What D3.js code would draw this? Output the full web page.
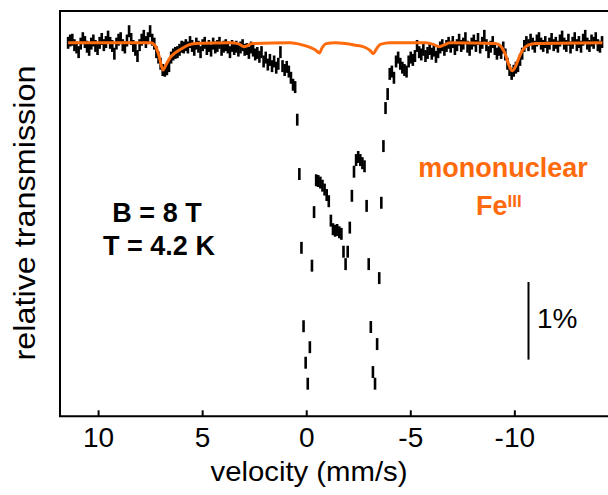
<!DOCTYPE html>
<html>
<head>
<meta charset="utf-8">
<script src="https://cdn.jsdelivr.net/npm/d3@7"></script>
<style>
  body { margin: 0; background: #fff; }
  text { font-family: 'Liberation Sans', Arial, Helvetica, sans-serif; }
</style>
</head>
<body>
<div id="chart"></div>
<script>
// channel calibration (mm/s)
const velStart = 11.44
const velStep = 0.101

// relative transmission (%) per channel
const transmission = [
  100.00, 100.03, 100.04, 99.97, 99.94, 99.88, 99.99, 100.06, 100.01, 99.95, 99.91, 99.99, 100.03, 99.96, 99.92,
  100.00, 100.05, 99.97, 100.01, 100.08, 100.00, 99.96, 99.86, 99.99, 100.04, 100.06, 99.97, 99.94, 100.03, 100.15,
  100.05, 99.96, 99.91, 99.83, 99.97, 100.04, 100.09, 100.01, 100.06, 100.15, 100.04, 99.99, 99.88, 99.81, 99.73,
  99.65, 99.64, 99.66, 99.70, 99.81, 99.85, 99.87, 99.88, 99.91, 99.95, 99.94, 99.97, 99.94, 100.01, 99.96,
  99.91, 99.99, 99.95, 99.88, 99.97, 100.00, 99.92, 99.96, 99.90, 99.99, 99.94, 99.96, 100.00, 99.91, 99.95,
  99.97, 99.94, 99.88, 99.96, 99.92, 99.95, 99.90, 99.94, 99.97, 99.91, 99.92, 99.87, 99.94, 99.90, 99.85,
  99.87, 99.82, 99.88, 99.76, 99.81, 99.72, 99.78, 99.70, 99.76, 99.68, 99.73, 99.88, 99.70, 99.65, 99.69,
  99.63, 99.55, 99.46, 99.43, 99.01, 98.31, 97.36, 96.35, 95.88, 95.61, 96.08, 97.13, 97.82, 98.23, 98.22,
  98.20, 98.16, 98.11, 98.04, 97.96, 97.71, 97.60, 97.58, 97.59, 97.56, 97.54, 97.31, 97.15, 97.31, 97.62,
  98.03, 98.34, 98.49, 98.53, 98.49, 98.45, 98.41, 97.90, 97.15, 96.34, 95.76, 95.61, 96.12, 96.97, 97.94,
  98.67, 99.16, 99.34, 99.60, 99.63, 99.55, 99.76, 99.81, 99.73, 99.68, 99.65, 99.63, 99.76, 99.81, 99.78,
  99.83, 99.96, 99.88, 99.85, 99.91, 99.83, 99.87, 99.92, 99.86, 99.90, 99.82, 99.88, 99.94, 99.97, 99.91,
  99.96, 100.00, 99.95, 100.01, 99.92, 99.97, 100.04, 99.96, 99.99, 100.06, 99.95, 99.91, 99.99, 100.03, 99.96,
  100.05, 99.94, 100.00, 100.09, 99.97, 99.88, 99.95, 100.01, 99.92, 99.86, 99.91, 99.87, 99.94, 99.85, 99.73,
  99.65, 99.60, 99.64, 99.68, 99.70, 99.78, 99.86, 99.96, 100.01, 99.97, 100.04, 99.99, 99.95, 100.03, 100.06,
  99.99, 99.96, 100.01, 99.94, 99.99, 100.05, 99.97, 100.00, 99.95, 100.03, 100.08, 99.99, 99.96, 100.04, 99.94,
  100.00, 100.06, 99.97, 100.01, 99.95, 100.04, 100.09, 99.99, 99.96, 100.03, 100.00, 100.06, 99.97, 99.95, 100.01
]
const errorBar = 0.077

// simulated mononuclear Fe(III) component
const fitVel = [11.44, 7.50, 7.36, 7.21, 7.07, 6.88, 6.73, 6.54, 6.30, 6.01, 5.67, 5.34, 3.65, 3.27, 2.98, 2.84, 2.60,
  0.77, 0.29, -0.19, -0.48, -0.63, -0.77, -0.96, -1.39, -1.88, -2.36, -2.84, -3.08, -3.22, -3.37, -3.56, -4.04,
  -5.72, -6.11, -6.39, -6.59, -6.92, -9.09, -9.33, -9.57, -9.76, -9.90, -10.05, -10.24, -10.43, -10.67, -11.01, -14.23]
const fitTrans = [100.00, 100.00, 99.99, 99.94, 99.83, 99.65, 99.72, 99.81, 99.87, 99.92, 99.97, 99.99, 100.00, 99.99, 99.95, 99.96, 99.99,
  100.00, 99.98, 99.94, 99.90, 99.87, 99.94, 99.99, 100.00, 99.99, 99.97, 99.94, 99.90, 99.86, 99.92, 99.98, 100.00,
  100.00, 99.98, 99.95, 99.97, 100.00, 99.99, 99.96, 99.85, 99.70, 99.64, 99.69, 99.82, 99.92, 99.97, 99.99, 100.00]

const xTicks = [10, 5, 0, -5, -10]
const scaleBarTop = 96.92 // 1% bar

const orange = '#ff6a0d'
const width = 608
const height = 495

const svg = d3
  .select('#chart')
  .append('svg')
  .attr('width', width)
  .attr('height', height)

const x = d3.scaleLinear().domain([11.83, -14.5]).range([60, 608])
const y = d3.scaleLinear().domain([95.19, 100.41]).range([416.3, 11])

const data = transmission.map((t, i) => ({ v: velStart - velStep * i, t: t }))

// frame (right side runs off the picture)
svg
  .append('path')
  .attr('d', `M614,${y.range()[1]}H${x.range()[0]}V${y.range()[0]}H614`)
  .attr('fill', 'none')
  .attr('stroke', '#000')
  .attr('stroke-width', 2)

const xAxis = svg
  .append('g')
  .attr('transform', `translate(0,${y.range()[0]})`)
  .call(
    d3
      .axisBottom(x)
      .tickValues(xTicks)
      .tickFormat(d => String(d))
      .tickSize(-6)
      .tickPadding(11)
  )
xAxis.select('.domain').remove()
xAxis.selectAll('.tick line').attr('stroke', '#000').attr('stroke-width', 2)
xAxis
  .selectAll('.tick text')
  .attr('fill', '#000')
  .style('font-size', '28px')
  .style('font-family', "'Liberation Sans', Arial, sans-serif")

svg
  .append('text')
  .attr('x', 309)
  .attr('y', 481)
  .attr('text-anchor', 'middle')
  .attr('textLength', 197)
  .attr('lengthAdjust', 'spacingAndGlyphs')
  .style('font-size', '28px')
  .text('velocity (mm/s)')

svg
  .append('text')
  .attr('transform', 'translate(35,213) rotate(-90)')
  .attr('text-anchor', 'middle')
  .attr('textLength', 295)
  .attr('lengthAdjust', 'spacingAndGlyphs')
  .style('font-size', '29px')
  .text('relative transmission')

// error bars
svg
  .append('g')
  .selectAll('line')
  .data(data)
  .enter()
  .append('line')
  .attr('x1', d => x(d.v))
  .attr('x2', d => x(d.v))
  .attr('y1', d => y(d.t + errorBar))
  .attr('y2', d => y(d.t - errorBar))
  .attr('stroke', '#000')
  .attr('stroke-width', 2.6)

// fit curve
const line = d3
  .line()
  .x((d, i) => x(fitVel[i]))
  .y(d => y(d))
  .curve(d3.curveMonotoneX)

svg
  .append('path')
  .datum(fitTrans)
  .attr('d', line)
  .attr('fill', 'none')
  .attr('stroke', orange)
  .attr('stroke-width', 3)

// labels
svg
  .append('text')
  .attr('x', 157)
  .attr('y', 222)
  .attr('text-anchor', 'middle')
  .style('font-size', '27px')
  .style('font-weight', 'bold')
  .text('B = 8 T')

svg
  .append('text')
  .attr('x', 159)
  .attr('y', 255)
  .attr('text-anchor', 'middle')
  .style('font-size', '27px')
  .style('font-weight', 'bold')
  .text('T = 4.2 K')

svg
  .append('text')
  .attr('x', 503)
  .attr('y', 177)
  .attr('text-anchor', 'middle')
  .attr('fill', orange)
  .style('font-size', '27px')
  .style('font-weight', 'bold')
  .text('mononuclear')

const fe = svg
  .append('text')
  .attr('x', 476)
  .attr('y', 215)
  .attr('fill', orange)
  .style('font-size', '27px')
  .style('font-weight', 'bold')
fe.append('tspan').text('Fe')
fe
  .append('tspan')
  .attr('dy', -8)
  .style('font-size', '17px')
  .text('III')

// 1% scale bar
svg
  .append('line')
  .attr('x1', 528.5)
  .attr('x2', 528.5)
  .attr('y1', y(scaleBarTop))
  .attr('y2', y(scaleBarTop - 1))
  .attr('stroke', '#000')
  .attr('stroke-width', 2)

svg
  .append('text')
  .attr('x', 537)
  .attr('y', 328)
  .style('font-size', '28px')
  .text('1%')
</script>
</body>
</html>
